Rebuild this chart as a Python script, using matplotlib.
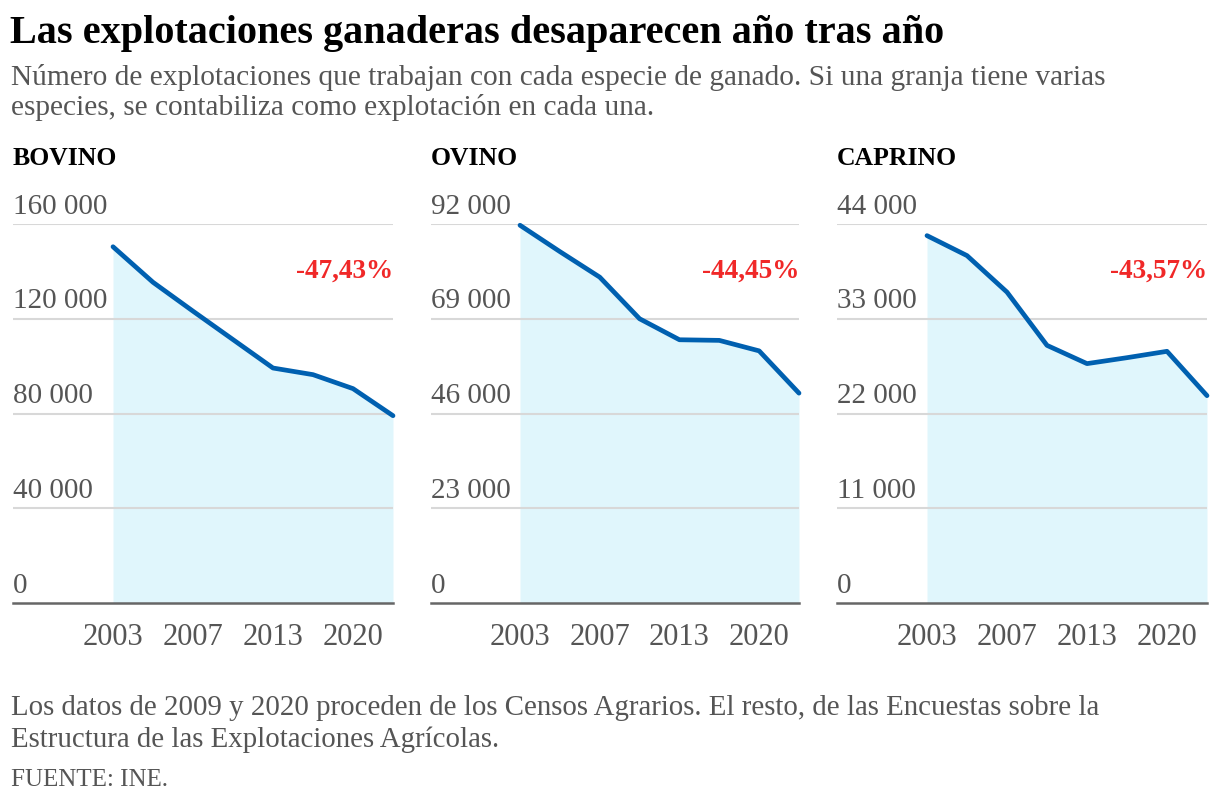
import matplotlib.pyplot as plt
import matplotlib.transforms as mtransforms

# datos (lectura aproximada del grafico)
anios = [2003, 2005, 2007, 2009, 2013, 2016, 2020, 2023]
anios_etiqueta = ['2003', '2007', '2013', '2020']
especies = ['BOVINO', 'OVINO', 'CAPRINO']
bovino = [150400, 135400, 123200, 111200, 99200, 96400, 90500, 79070]
ovino = [91700, 85300, 79100, 69000, 63900, 63750, 61200, 50940]
caprino = [42650, 40330, 36090, 29910, 27790, 28480, 29220, 24070]
variacion = ['-47,43%', '-44,45%', '-43,57%']
ticks_y = [[0, 40000, 80000, 120000, 160000],
           [0, 23000, 46000, 69000, 92000],
           [0, 11000, 22000, 33000, 44000]]

subtitulo = ['Número de explotaciones que trabajan con cada especie de ganado. '
             'Si una granja tiene varias',
             'especies, se contabiliza como explotación en cada una.']
nota = ['Los datos de 2009 y 2020 proceden de los Censos Agrarios. '
        'El resto, de las Encuestas sobre la',
        'Estructura de las Explotaciones Agrícolas.']

W, H = 1220, 806
serif = ['Liberation Serif', 'DejaVu Serif']
gris = '#555555'

fig = plt.figure(figsize=(W / 100, H / 100), dpi=100)
fig.patch.set_facecolor('white')

def px(x, y):
    """pixel (arriba-izquierda) -> coordenadas de figura"""
    return x / W, 1 - y / H

fig.text(*px(10, 43), 'Las explotaciones ganaderas desaparecen año tras año',
         family=serif, weight='bold', fontsize=29, va='baseline', ha='left')
for k, linea in enumerate(subtitulo):
    fig.text(*px(11, 85 + 30 * k), linea, family=serif, fontsize=21.2,
             color=gris, va='baseline', ha='left')

# posicion de cada panel en pixeles: izquierda, derecha, primer punto
paneles = [(13, 393, 113), (431, 799, 520), (837, 1207, 927)]
top, bottom = 224, 603
series = [bovino, ovino, caprino]

for i, (izq, der, x0) in enumerate(paneles):
    ax = fig.add_axes([izq / W, 1 - bottom / H, (der - izq) / W, (bottom - top) / H])
    n = len(anios)
    idx = list(range(n))
    paso = (der - x0) / (n - 1)
    xmin = -(x0 - izq) / paso
    ax.set_xlim(xmin, n - 1)
    ax.set_ylim(0, ticks_y[i][-1])

    ax.fill_between(idx, series[i], 0, color='#e0f6fc', lw=0, zorder=1)
    for t in ticks_y[i][1:]:
        ax.axhline(t, color='#d8d8d8', lw=1.5, zorder=2)
    ax.axhline(0, color='#666666', lw=1.8, zorder=3, clip_on=False)
    ax.plot(idx, series[i], color='#0060b0', lw=3.4, solid_capstyle='round',
            solid_joinstyle='round', zorder=4, clip_on=False)

    off = mtransforms.offset_copy(ax.transData, fig=fig, x=0, y=7.5, units='points')
    for t in ticks_y[i]:
        lab = f'{t:,}'.replace(',', ' ')
        ax.text(xmin, t, lab, transform=off, family=serif, fontsize=21,
                color=gris, ha='left', va='baseline')

    off_x = mtransforms.offset_copy(ax.get_xaxis_transform(), fig=fig,
                                    x=0, y=-30, units='points')
    for lab in anios_etiqueta:
        k = anios.index(int(lab))
        ax.text(k, 0, lab, transform=off_x, family=serif,
                fontsize=22, color=gris, ha='center', va='baseline')

    ax.text(n - 1, 1, variacion[i], transform=mtransforms.offset_copy(
        ax.get_xaxis_transform(), fig=fig, x=0, y=-38.5, units='points'),
        family=serif, weight='bold', fontsize=19.5, color='#f02828',
        ha='right', va='baseline')

    fig.text(izq / W, 1 - 165 / H, especies[i], family=serif, weight='bold',
             fontsize=18.5, ha='left', va='baseline')

    ax.set_axis_off()

for k, linea in enumerate(nota):
    fig.text(*px(11, 715 + 32 * k), linea, family=serif, fontsize=20.8,
             color=gris, va='baseline', ha='left')
fig.text(*px(11, 786), 'FUENTE: INE.', family=serif, fontsize=18, color=gris,
         va='baseline', ha='left')

fig.savefig('out.png', dpi=100)
